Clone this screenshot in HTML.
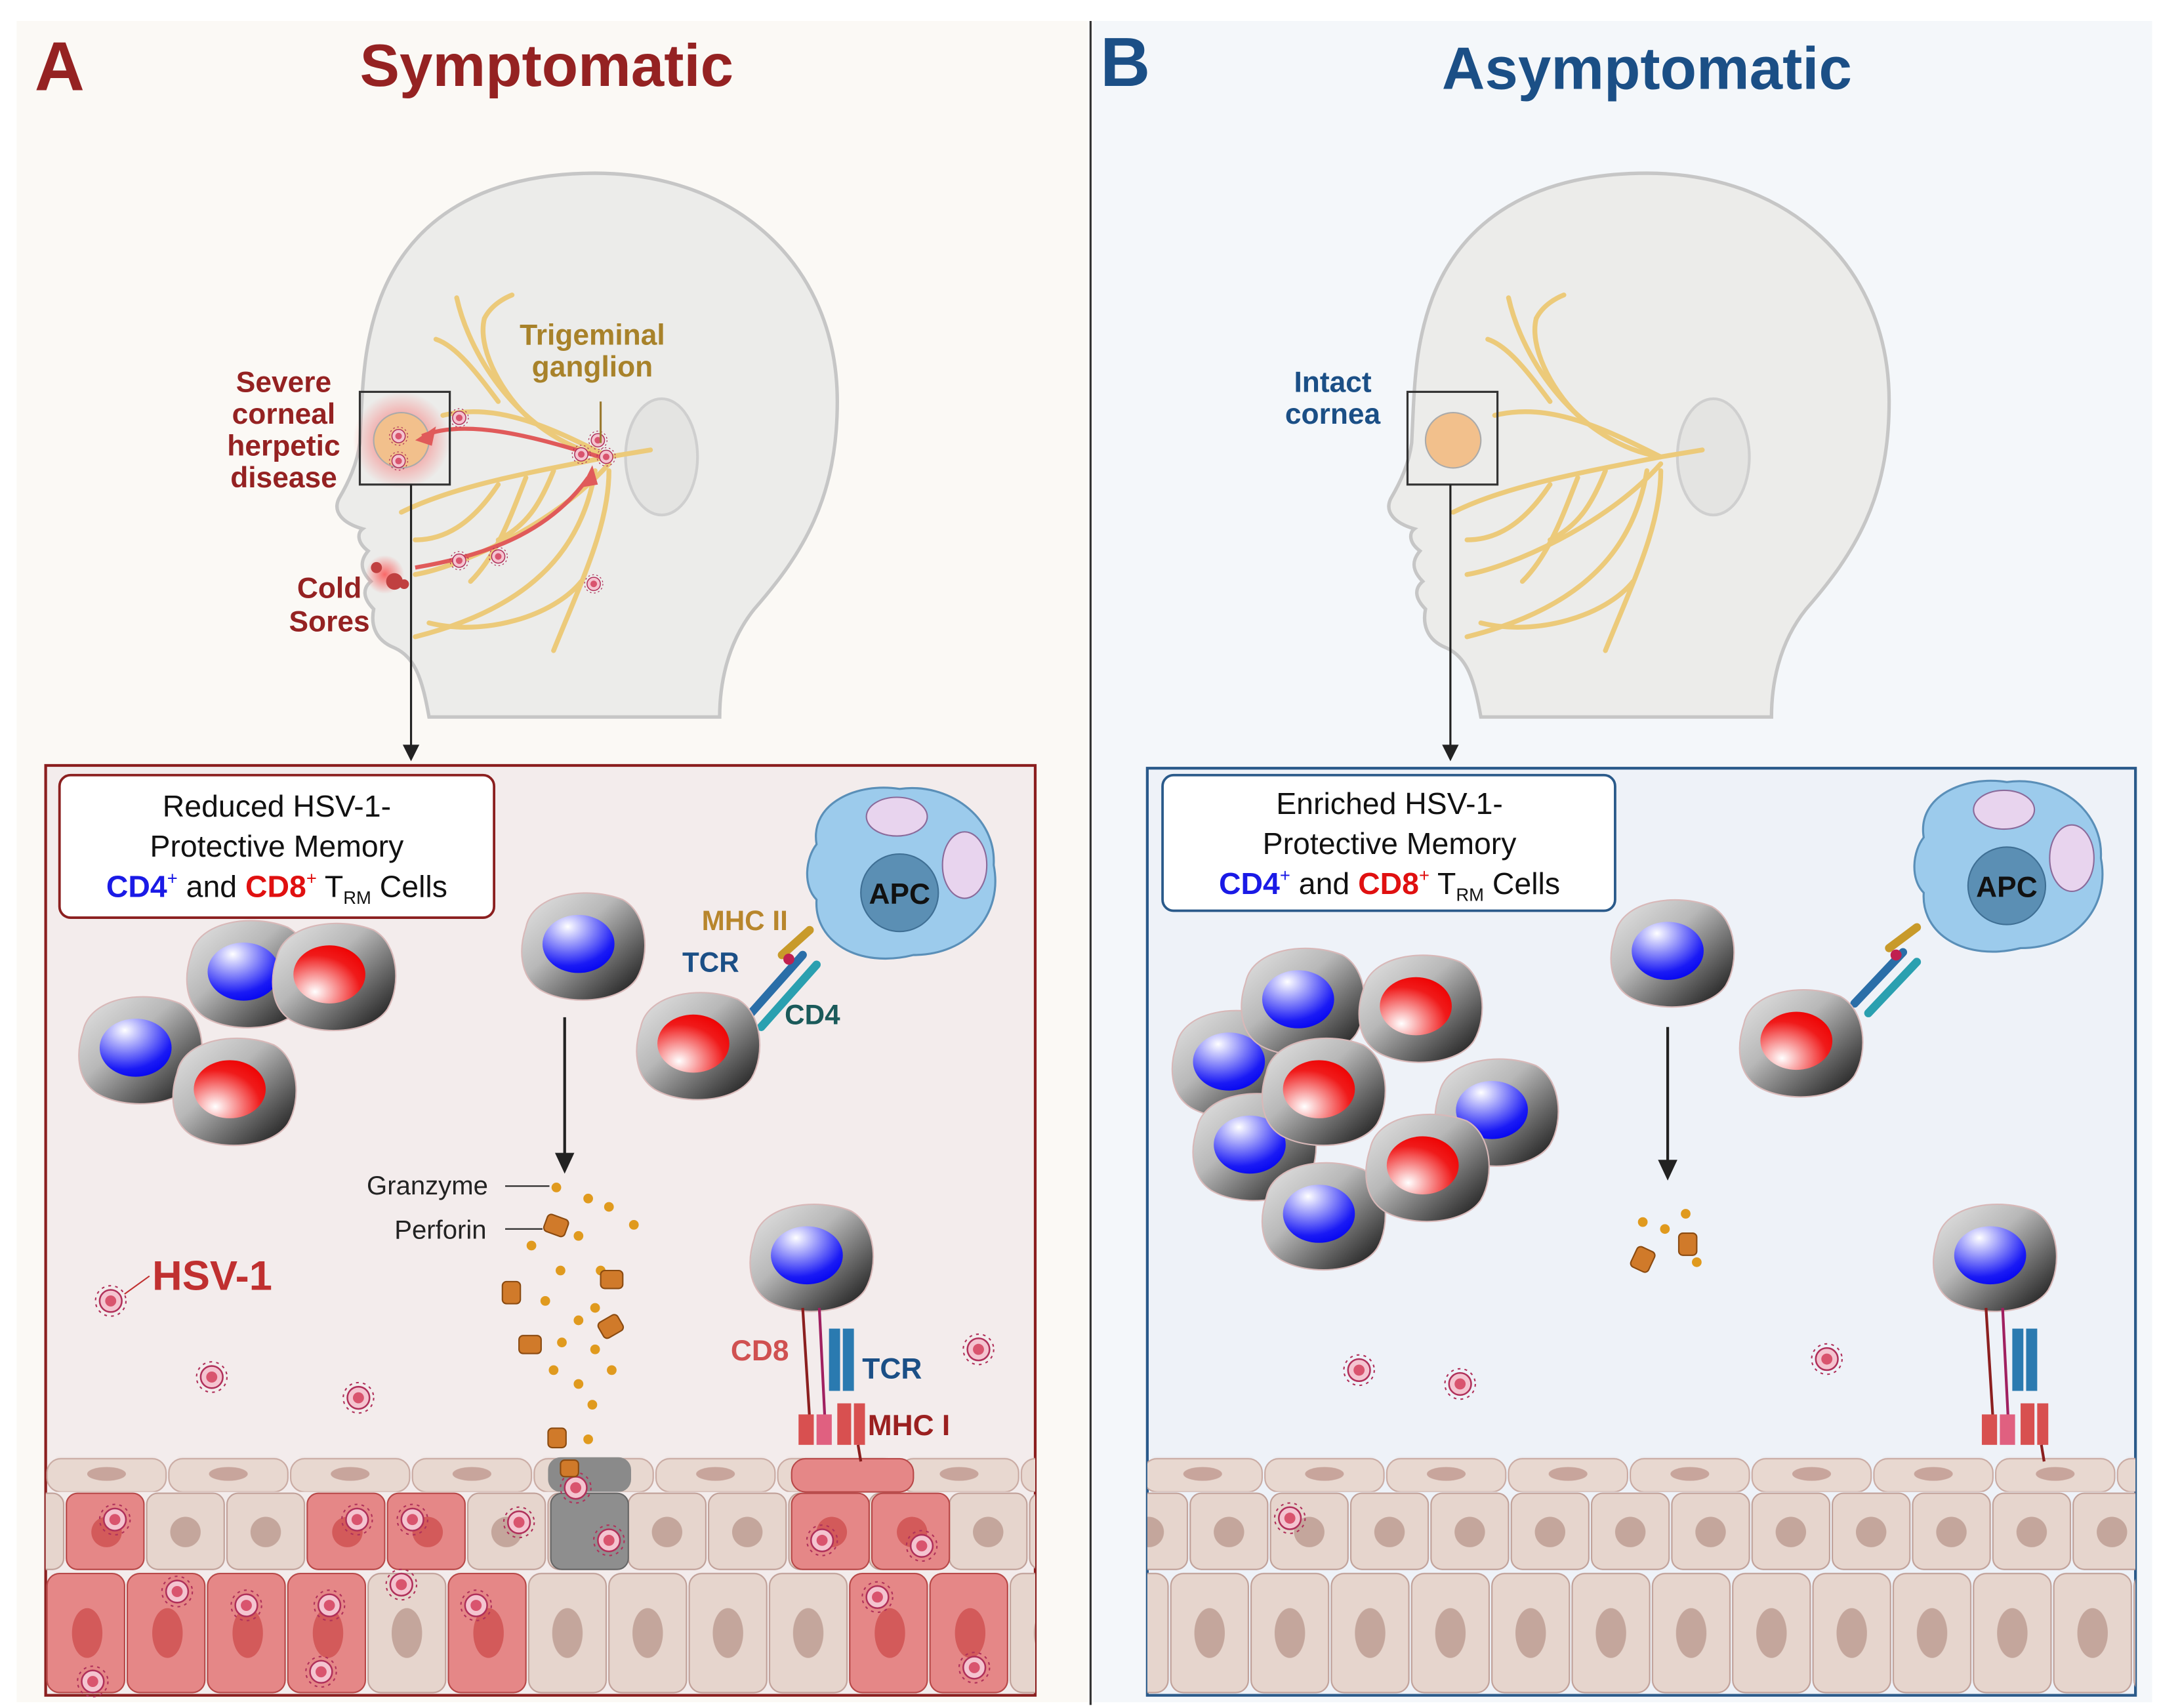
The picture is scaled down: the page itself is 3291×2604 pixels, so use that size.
<!DOCTYPE html>
<html><head><meta charset="utf-8"><style>html,body{margin:0;padding:0;background:#fff}svg{display:block}text{font-family:"Liberation Sans",sans-serif}</style></head>
<body>
<svg width="3291" height="2604" viewBox="0 0 1560 1234" xmlns="http://www.w3.org/2000/svg">
<defs>
<linearGradient id="cg" x1="0" y1="0" x2="1" y2="1"><stop offset="0" stop-color="#e6e6e6"/><stop offset="0.4" stop-color="#b8b8b8"/><stop offset="1" stop-color="#0a0a0a"/></linearGradient>
<radialGradient id="nb" cx="0.35" cy="0.2" r="0.9"><stop offset="0" stop-color="#fff"/><stop offset="0.75" stop-color="#1a1af5"/><stop offset="1" stop-color="#0000ee"/></radialGradient>
<radialGradient id="nr" cx="0.3" cy="0.8" r="0.9"><stop offset="0" stop-color="#fff"/><stop offset="0.7" stop-color="#f01a1a"/><stop offset="1" stop-color="#e00"/></radialGradient>
<radialGradient id="glow"><stop offset="0" stop-color="#ff3030" stop-opacity="0.7"/><stop offset="1" stop-color="#ff3030" stop-opacity="0"/></radialGradient>
<g id="cell"><path d="M-40,-15 C-35,-40 5,-45 30,-35 C48,-25 50,5 40,22 C28,40 -10,42 -30,30 C-45,20 -45,0 -40,-15Z" fill="url(#cg)" stroke="#d8b8b8" stroke-width="1"/></g>
<g id="cb"><use href="#cell"/><ellipse cx="-2" cy="-3" rx="26" ry="21" fill="url(#nb)"/></g>
<g id="cr"><use href="#cell"/><ellipse cx="-2" cy="-3" rx="26" ry="21" fill="url(#nr)"/></g>
<g id="v"><circle r="11" fill="none" stroke="#b0305a" stroke-width="1" stroke-dasharray="2 3"/><circle r="8" fill="#f4c4d0" stroke="#b0305a" stroke-width="1.2"/><circle r="4" fill="#d9546e"/></g>
<pattern id="p1" x="33" y="1053" width="88" height="25" patternUnits="userSpaceOnUse"><rect x="1" y="1" width="86" height="24" rx="10" fill="#e8d8d0" stroke="#c9aaa2"/><ellipse cx="44" cy="12" rx="14" ry="5" fill="#c8a59c"/></pattern>
<pattern id="p2" x="47" y="1078" width="58" height="57" patternUnits="userSpaceOnUse"><rect x="1" y="1" width="56" height="55" rx="8" fill="#e6d5cd" stroke="#c0a098"/><circle cx="29" cy="29" r="11" fill="#c4a69c"/></pattern>
<pattern id="p3" x="33" y="1135" width="58" height="90" patternUnits="userSpaceOnUse"><rect x="1" y="2" width="56" height="86" rx="9" fill="#e6d5cd" stroke="#c0a098"/><ellipse cx="29" cy="45" rx="11" ry="18" fill="#c4a69c"/></pattern>
<g id="head">
<path d="M310 518 C305 490 300 475 285 468 C270 462 268 450 270 440 C262 432 262 425 268 420 C260 412 260 405 266 398 C258 392 258 385 262 382 C248 378 240 370 245 360 C252 348 258 335 260 320 C262 280 262 250 275 215 C300 150 360 125 430 125 C530 125 605 190 605 290 C605 360 580 400 545 440 C525 465 520 495 520 518 Z" fill="#ececea" stroke="#c6c6c6" stroke-width="2.5"/>
<ellipse cx="478" cy="330" rx="26" ry="42" fill="#e4e4e2" stroke="#cfcfcf" stroke-width="2"/>
<g fill="none" stroke="#ecca7a" stroke-width="3.5" stroke-linecap="round">
<path d="M440 330 C400 310 360 290 320 300"/><path d="M440 330 C380 320 340 260 330 215"/><path d="M380 300 C360 280 345 250 350 230"/><path d="M360 290 C345 270 330 250 315 245"/>
<path d="M440 330 C390 340 330 350 290 370"/><path d="M440 335 C400 380 330 410 300 415"/><path d="M430 340 C420 400 380 440 300 460"/>
<path d="M440 340 C440 380 420 420 400 470"/><path d="M360 350 C340 380 320 390 300 390"/><path d="M380 345 C370 370 360 400 340 420"/>
<path d="M440 330 L470 325"/><path d="M420 420 C400 445 350 460 310 450"/><path d="M400 340 C390 365 380 380 360 390"/><path d="M350 230 C355 220 365 215 370 213"/>
</g>
</g>
</defs>
<rect width="1560" height="1234" fill="#fff"/>
<rect x="12" y="15" width="774" height="1215" fill="#fbf9f5"/>
<rect x="790" y="15" width="765" height="1215" fill="#f4f7fa"/>
<line x1="788" y1="15" x2="788" y2="1232" stroke="#333" stroke-width="1.5"/>
<text x="25" y="65" font-size="50" font-weight="bold" fill="#952222">A</text>
<text x="395" y="62" font-size="43" font-weight="bold" fill="#952222" text-anchor="middle">Symptomatic</text>
<text x="795" y="62" font-size="50" font-weight="bold" fill="#1b4f86">B</text>
<text x="1190" y="64" font-size="43" font-weight="bold" fill="#1b4f86" text-anchor="middle">Asymptomatic</text>

<use href="#head"/>
<use href="#head" transform="translate(760,0)"/>
<circle cx="290" cy="318" r="35" fill="url(#glow)"/>
<circle cx="290" cy="318" r="20" fill="#f2c08c" stroke="#aaa"/>
<path d="M440 332 C400 320 340 300 305 315" fill="none" stroke="#e05a5a" stroke-width="3"/>
<path d="M300 410 C360 400 400 380 425 345" fill="none" stroke="#e05a5a" stroke-width="3"/>
<polygon points="300,318 315,308 312,322" fill="#e05a5a"/><polygon points="428,336 420,352 432,350" fill="#e05a5a"/>
<circle cx="278" cy="415" r="14" fill="url(#glow)"/><circle cx="285" cy="420" r="6" fill="#c04040"/><circle cx="272" cy="410" r="4" fill="#c04040"/><circle cx="292" cy="422" r="3.5" fill="#c04040"/>
<g transform="scale(0.6)"><use href="#v" x="553" y="503"/><use href="#v" x="700" y="547"/><use href="#v" x="715" y="703"/><use href="#v" x="600" y="670"/><use href="#v" x="553" y="675"/><use href="#v" x="480" y="525"/><use href="#v" x="480" y="555"/><use href="#v" x="730" y="550"/><use href="#v" x="720" y="530"/></g>
<rect x="260" y="283" width="65" height="67" fill="none" stroke="#333" stroke-width="1.5"/>
<line x1="434" y1="290" x2="434" y2="320" stroke="#9a7a30" stroke-width="1.5"/>
<text x="428" y="249" font-size="21" font-weight="bold" fill="#a8822a" text-anchor="middle">Trigeminal</text>
<text x="428" y="272" font-size="21" font-weight="bold" fill="#a8822a" text-anchor="middle">ganglion</text>
<g font-size="21" font-weight="bold" fill="#952222" text-anchor="middle"><text x="205" y="283">Severe</text><text x="205" y="306">corneal</text><text x="205" y="329">herpetic</text><text x="205" y="352">disease</text><text x="238" y="432">Cold</text><text x="238" y="456">Sores</text></g>
<circle cx="1050" cy="318" r="20" fill="#f2c08c" stroke="#aaa"/>
<rect x="1017" y="283" width="65" height="67" fill="none" stroke="#333" stroke-width="1.5"/>
<g font-size="21" font-weight="bold" fill="#1b4f86" text-anchor="middle"><text x="963" y="283">Intact</text><text x="963" y="306">cornea</text></g>
<line x1="297" y1="350" x2="297" y2="540" stroke="#222" stroke-width="1.5"/><polygon points="291,538 303,538 297,550" fill="#222"/>
<line x1="1048" y1="350" x2="1048" y2="540" stroke="#222" stroke-width="1.5"/><polygon points="1042,538 1054,538 1048,550" fill="#222"/>
<rect x="33" y="553" width="715" height="672" fill="#f3ecec" stroke="#8b1f1f" stroke-width="2"/>
<rect x="829" y="555" width="714" height="670" fill="#eef2f8" stroke="#2a5a8a" stroke-width="2"/>
<g>
<rect x="33" y="1053" width="715" height="25" fill="url(#p1)"/><rect x="33" y="1078" width="715" height="57" fill="url(#p2)"/><rect x="33" y="1135" width="715" height="90" fill="url(#p3)"/>
<rect x="829" y="1053" width="714" height="25" fill="url(#p1)"/><rect x="829" y="1078" width="714" height="57" fill="url(#p2)"/><rect x="829" y="1135" width="714" height="90" fill="url(#p3)"/>
</g>
<g fill="#e58787" stroke="#b84848">
<rect x="48" y="1079" width="56" height="55" rx="8"/><rect x="222" y="1079" width="56" height="55" rx="8"/><rect x="280" y="1079" width="56" height="55" rx="8"/><rect x="572" y="1079" width="56" height="55" rx="8"/><rect x="630" y="1079" width="56" height="55" rx="8"/>
<rect x="34" y="1137" width="56" height="86" rx="9"/><rect x="92" y="1137" width="56" height="86" rx="9"/><rect x="150" y="1137" width="56" height="86" rx="9"/><rect x="208" y="1137" width="56" height="86" rx="9"/><rect x="324" y="1137" width="56" height="86" rx="9"/><rect x="614" y="1137" width="56" height="86" rx="9"/><rect x="672" y="1137" width="56" height="86" rx="9"/>
<rect x="572" y="1054" width="88" height="24" rx="10"/>
</g>
<g fill="#d35a5a"><circle cx="77" cy="1107" r="11"/><circle cx="251" cy="1107" r="11"/><circle cx="309" cy="1107" r="11"/><circle cx="601" cy="1107" r="11"/><circle cx="659" cy="1107" r="11"/>
<ellipse cx="63" cy="1180" rx="11" ry="18"/><ellipse cx="121" cy="1180" rx="11" ry="18"/><ellipse cx="179" cy="1180" rx="11" ry="18"/><ellipse cx="237" cy="1180" rx="11" ry="18"/><ellipse cx="353" cy="1180" rx="11" ry="18"/><ellipse cx="643" cy="1180" rx="11" ry="18"/><ellipse cx="701" cy="1180" rx="11" ry="18"/></g>
<rect x="396" y="1053" width="60" height="25" rx="9" fill="#8a8a8a"/><rect x="398" y="1079" width="56" height="55" rx="8" fill="#8e8e8e" stroke="#666"/>
<g><use href="#v" x="83" y="1098"/><use href="#v" x="258" y="1098"/><use href="#v" x="298" y="1098"/><use href="#v" x="375" y="1100"/><use href="#v" x="416" y="1075"/><use href="#v" x="440" y="1113"/><use href="#v" x="594" y="1113"/><use href="#v" x="666" y="1117"/><use href="#v" x="128" y="1150"/><use href="#v" x="178" y="1160"/><use href="#v" x="238" y="1160"/><use href="#v" x="290" y="1145"/><use href="#v" x="344" y="1160"/><use href="#v" x="232" y="1208"/><use href="#v" x="67" y="1215"/><use href="#v" x="634" y="1154"/><use href="#v" x="704" y="1205"/>
<use href="#v" x="80" y="940"/><use href="#v" x="153" y="995"/><use href="#v" x="259" y="1010"/><use href="#v" x="707" y="975"/><use href="#v" x="932" y="1097"/><use href="#v" x="982" y="990"/><use href="#v" x="1055" y="1000"/><use href="#v" x="1320" y="982"/></g>
<rect x="43" y="560" width="314" height="103" rx="8" fill="#fff" stroke="#8b1f1f" stroke-width="1.8"/>
<g font-size="22" text-anchor="middle" fill="#111"><text x="200" y="590">Reduced HSV-1-</text><text x="200" y="619">Protective Memory</text>
<text x="200" y="648"><tspan fill="#1a1ae6" font-weight="bold">CD4</tspan><tspan font-size="13" dy="-9" fill="#1a1ae6">+</tspan><tspan dy="9"> and </tspan><tspan fill="#e01010" font-weight="bold">CD8</tspan><tspan font-size="13" dy="-9" fill="#e01010">+</tspan><tspan dy="9"> T</tspan><tspan font-size="13" dy="5">RM</tspan><tspan dy="-5"> Cells</tspan></text></g>
<rect x="840" y="560" width="327" height="98" rx="8" fill="#fff" stroke="#2a5a8a" stroke-width="1.8"/>
<g font-size="22" text-anchor="middle" fill="#111"><text x="1004" y="588">Enriched HSV-1-</text><text x="1004" y="617">Protective Memory</text>
<text x="1004" y="646"><tspan fill="#1a1ae6" font-weight="bold">CD4</tspan><tspan font-size="13" dy="-9" fill="#1a1ae6">+</tspan><tspan dy="9"> and </tspan><tspan fill="#e01010" font-weight="bold">CD8</tspan><tspan font-size="13" dy="-9" fill="#e01010">+</tspan><tspan dy="9"> T</tspan><tspan font-size="13" dy="5">RM</tspan><tspan dy="-5"> Cells</tspan></text></g>
<g id="apc"><path d="M590 610 C585 580 620 565 650 570 C685 565 720 590 718 625 C725 660 700 690 660 690 C620 700 588 680 590 650 C580 640 582 620 590 610Z" fill="#9ccbec" stroke="#5a8fb8" stroke-width="1.5"/>
<ellipse cx="648" cy="590" rx="22" ry="14" fill="#e8d4ee" stroke="#8a6a9a"/><ellipse cx="697" cy="625" rx="16" ry="24" fill="#e8d4ee" stroke="#8a6a9a"/>
<circle cx="650" cy="645" r="28" fill="#5b8fb4" stroke="#3f6f94"/><text x="650" y="653" font-size="21" font-weight="bold" fill="#111" text-anchor="middle">APC</text></g>
<use href="#apc" transform="translate(800,-5)"/>
<g stroke-width="6" stroke-linecap="round"><line x1="540" y1="735" x2="580" y2="690" stroke="#2a6ea8"/><line x1="550" y1="742" x2="590" y2="697" stroke="#2aa0b0"/><line x1="565" y1="690" x2="585" y2="672" stroke="#c89a2a"/></g>
<circle cx="570" cy="693" r="4" fill="#c02050"/>
<g stroke-width="6" stroke-linecap="round"><line x1="1340" y1="725" x2="1375" y2="688" stroke="#2a6ea8"/><line x1="1350" y1="732" x2="1385" y2="695" stroke="#2aa0b0"/><line x1="1365" y1="685" x2="1385" y2="670" stroke="#c89a2a"/></g>
<circle cx="1370" cy="690" r="4" fill="#c02050"/>
<text x="507" y="672" font-size="20" font-weight="bold" fill="#b8862c">MHC II</text>
<text x="493" y="702" font-size="20" font-weight="bold" fill="#1b4f86">TCR</text>
<text x="567" y="740" font-size="20" font-weight="bold" fill="#1a5a5a">CD4</text>
<use href="#cb" x="100" y="760"/><use href="#cb" x="178" y="705"/><use href="#cr" x="240" y="707"/><use href="#cr" x="168" y="790"/>
<use href="#cb" x="420" y="685"/><use href="#cr" x="503" y="757"/><use href="#cb" x="585" y="910"/>
<use href="#cb" x="890" y="770"/><use href="#cb" x="940" y="725"/><use href="#cr" x="1025" y="730"/><use href="#cb" x="905" y="830"/><use href="#cr" x="955" y="790"/><use href="#cb" x="1080" y="805"/><use href="#cb" x="955" y="880"/><use href="#cr" x="1030" y="845"/>
<use href="#cb" x="1207" y="690"/><use href="#cr" x="1300" y="755"/><use href="#cb" x="1440" y="910"/>
<g id="mhc"><line x1="580" y1="945" x2="585" y2="1025" stroke="#8b1f1f" stroke-width="2"/><line x1="592" y1="945" x2="596" y2="1025" stroke="#a02060" stroke-width="2"/>
<rect x="599" y="960" width="8" height="45" fill="#2a7ab0"/><rect x="609" y="960" width="8" height="45" fill="#2a7ab0"/>
<rect x="577" y="1022" width="11" height="22" fill="#d85050"/><rect x="590" y="1022" width="11" height="22" fill="#e06080"/><rect x="605" y="1014" width="10" height="30" fill="#d85050"/><rect x="617" y="1014" width="8" height="30" fill="#d85050"/><line x1="620" y1="1044" x2="622" y2="1056" stroke="#8b1f1f" stroke-width="2"/></g>
<use href="#mhc" transform="translate(855,0)"/>
<text x="528" y="983" font-size="21" font-weight="bold" fill="#d05050">CD8</text>
<text x="623" y="996" font-size="21" font-weight="bold" fill="#1b4f86">TCR</text>
<text x="627" y="1037" font-size="21" font-weight="bold" fill="#9b2020">MHC I</text>
<line x1="408" y1="735" x2="408" y2="835" stroke="#222" stroke-width="2"/><polygon points="401,833 415,833 408,848" fill="#222"/>
<line x1="1205" y1="742" x2="1205" y2="840" stroke="#222" stroke-width="2"/><polygon points="1198,838 1212,838 1205,853" fill="#222"/>
<g fill="#e09a1e"><circle cx="402" cy="858" r="3.5"/><circle cx="425" cy="866" r="3.5"/><circle cx="440" cy="872" r="3.5"/><circle cx="458" cy="885" r="3.5"/><circle cx="418" cy="893" r="3.5"/><circle cx="384" cy="900" r="3.5"/><circle cx="405" cy="918" r="3.5"/><circle cx="434" cy="918" r="3.5"/><circle cx="430" cy="945" r="3.5"/><circle cx="394" cy="940" r="3.5"/><circle cx="418" cy="954" r="3.5"/><circle cx="406" cy="970" r="3.5"/><circle cx="430" cy="975" r="3.5"/><circle cx="400" cy="990" r="3.5"/><circle cx="418" cy="1000" r="3.5"/><circle cx="442" cy="990" r="3.5"/><circle cx="428" cy="1015" r="3.5"/><circle cx="425" cy="1040" r="3.5"/>
<circle cx="1187" cy="883" r="3.5"/><circle cx="1203" cy="888" r="3.5"/><circle cx="1218" cy="877" r="3.5"/><circle cx="1226" cy="912" r="3.5"/></g>
<g fill="#d07a2a" stroke="#8a4a10" stroke-width="1"><rect x="394" y="879" width="16" height="13" rx="3" transform="rotate(20 402 885)"/><rect x="434" y="918" width="16" height="13" rx="3"/><rect x="363" y="926" width="13" height="16" rx="3"/><rect x="375" y="965" width="16" height="13" rx="3"/><rect x="433" y="952" width="16" height="13" rx="3" transform="rotate(-30 441 958)"/><rect x="396" y="1032" width="13" height="14" rx="3"/><rect x="405" y="1055" width="13" height="12" rx="3"/>
<rect x="1180" y="902" width="14" height="16" rx="3" transform="rotate(25 1187 910)"/><rect x="1213" y="891" width="13" height="16" rx="3"/></g>
<g font-size="19" fill="#222"><text x="265" y="863">Granzyme</text><text x="285" y="895">Perforin</text></g>
<line x1="365" y1="857" x2="397" y2="857" stroke="#222"/><line x1="365" y1="888" x2="392" y2="888" stroke="#222"/>
<text x="110" y="932" font-size="30" font-weight="bold" fill="#c03030">HSV-1</text><line x1="90" y1="935" x2="108" y2="922" stroke="#c03030"/>
</svg>
</body></html>
